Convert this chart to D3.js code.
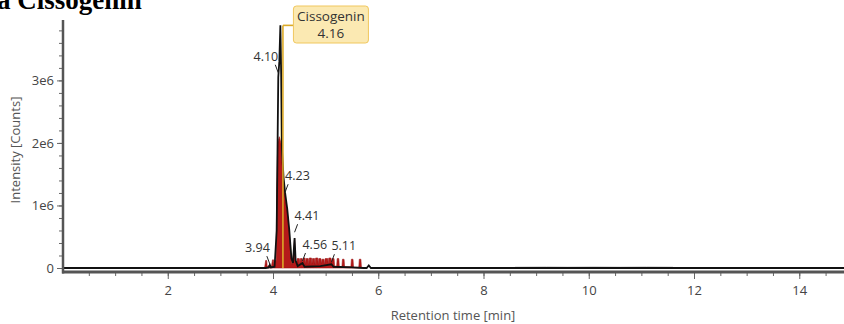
<!DOCTYPE html>
<html>
<head>
<meta charset="utf-8">
<script src="https://cdn.jsdelivr.net/npm/d3@7"></script>
<style>
  body { margin: 0; background: #fff; }
  svg { display: block; font-family: 'Open Sans', 'Noto Sans', sans-serif; }
</style>
</head>
<body>
<svg width="844" height="324"></svg>
<script>
// retention time [min] / intensity [counts]
const xMajorTicks = [2, 4, 6, 8, 10, 12, 14];
const yMajorTicks = [0, 1e6, 2e6, 3e6];
const yTickLabels = ['0', '1e6', '2e6', '3e6'];

const ticTrace = [
  [0, 0], [3.86, 0], [3.92, 0.01e6], [3.94, 0.05e6], [3.96, 0.01e6], [4.03, 0.02e6],
  [4.07, 0.6e6], [4.10, 3.05e6], [4.12, 3.3e6], [4.14, 3.88e6], [4.155, 3.1e6],
  [4.17, 1.9e6], [4.20, 1.45e6], [4.23, 1.2e6], [4.27, 0.95e6], [4.31, 0.6e6],
  [4.35, 0.15e6], [4.38, 0.08e6], [4.41, 0.48e6], [4.43, 0.12e6], [4.47, 0.03e6],
  [4.56, 0.08e6], [4.60, 0.02e6], [4.90, 0.03e6], [5.11, 0.06e6], [5.15, 0.02e6],
  [5.50, 0.01e6], [5.72, 0], [5.78, 0], [5.82, 0.04e6], [5.86, 0], [14.85, 0]
];

const fillTrace = [
  [3.84, 0], [3.86, 0.12e6], [3.88, 0.12e6], [3.89, 0.02e6], [3.94, 0.05e6], [3.97, 0.02e6],
  [3.99, 0.13e6], [4.01, 0.13e6], [4.02, 0.03e6], [4.04, 0.12e6], [4.06, 0.12e6],
  [4.07, 1.2e6], [4.09, 2.0e6], [4.12, 2.1e6], [4.15, 2.0e6], [4.17, 1.7e6],
  [4.20, 1.4e6], [4.23, 1.15e6], [4.27, 0.9e6], [4.31, 0.55e6], [4.34, 0.2e6],
  [4.36, 0.05e6], [4.38, 0.15e6], [4.41, 0.48e6], [4.43, 0.12e6], [4.45, 0.03e6],
  [4.46, 0.15e6], [4.50, 0.15e6], [4.51, 0.05e6], [4.52, 0.15e6], [4.555, 0.15e6],
  [4.565, 0.06e6], [4.575, 0.16e6], [4.61, 0.16e6], [4.62, 0.05e6], [4.63, 0.15e6],
  [4.67, 0.15e6], [4.68, 0.05e6], [4.69, 0.16e6], [4.73, 0.16e6], [4.74, 0.06e6],
  [4.75, 0.15e6], [4.79, 0.15e6], [4.80, 0.05e6], [4.81, 0.16e6], [4.85, 0.16e6],
  [4.86, 0.05e6], [4.87, 0.15e6], [4.91, 0.15e6], [4.92, 0.06e6], [4.93, 0.14e6],
  [4.97, 0.14e6], [4.98, 0.04e6], [4.99, 0.15e6], [5.04, 0.15e6], [5.05, 0.05e6],
  [5.06, 0.16e6], [5.10, 0.16e6], [5.11, 0.08e6], [5.12, 0.15e6], [5.16, 0.15e6],
  [5.17, 0.03e6], [5.21, 0.03e6], [5.22, 0.15e6], [5.25, 0.15e6], [5.26, 0.02e6],
  [5.31, 0.02e6], [5.32, 0.14e6], [5.35, 0.14e6], [5.36, 0.02e6], [5.48, 0.02e6],
  [5.49, 0.14e6], [5.52, 0.14e6], [5.53, 0.01e6], [5.63, 0.01e6], [5.64, 0.14e6],
  [5.67, 0.14e6], [5.68, 0.01e6], [5.70, 0]
];

const xicTrace = [
  [4.10, 0], [4.13, 1.5e6], [4.16, 3.88e6], [4.18, 2.0e6], [4.22, 1.25e6],
  [4.30, 0.65e6], [4.38, 0.1e6], [4.42, 0]
];

const noiseTrace = [
  [8.6, 0.015e6], [9.2, 0.02e6], [9.6, 0.015e6], [10.1, 0.02e6],
  [10.6, 0.015e6], [11.1, 0.02e6], [11.6, 0.015e6]
];

const peakTimes = [3.94, 4.10, 4.23, 4.41, 4.56, 5.11];
const peakLevels = [0.03e6, 3.09e6, 1.18e6, 0.54e6, 0.08e6, 0.06e6];
const peakSides = [-1, -1, 1, 1, 1, 1];

const compoundName = 'Cissogenin';
const compoundRt = 4.16;
const compoundApex = 3.88e6;

const svg = d3.select('svg');

const x = d3.scaleLinear().domain([0, 14.85]).range([62.5, 844]);
const y = d3.scaleLinear().domain([0, 3.95e6]).range([268, 21]);

// title, cut off at the top edge like the source figure
svg.append('text')
  .attr('x', -3)
  .attr('y', 9)
  .style('font-family', "'Liberation Serif', serif")
  .style('font-weight', 'bold')
  .style('font-size', '27px')
  .text('a Cissogenin');

function drawAxis() {
  const xMinor = d3.range(0.5, 14.85, 0.5);
  const xAxisMinor = svg.append('g')
    .attr('transform', 'translate(0,272)')
    .call(d3.axisBottom(x).tickValues(xMinor).tickSize(4).tickFormat(''));
  xAxisMinor.select('.domain').remove();

  const xAxis = svg.append('g')
    .attr('transform', 'translate(0,272)')
    .call(d3.axisBottom(x).tickValues(xMajorTicks).tickSize(7).tickPadding(7).tickFormat(d3.format('d')));
  xAxis.select('.domain').remove();

  const yMinor = d3.range(0.2e6, 3.95e6, 0.2e6);
  const yAxisMinor = svg.append('g')
    .attr('transform', 'translate(63,0)')
    .call(d3.axisLeft(y).tickValues(yMinor).tickSize(4).tickFormat(''));
  yAxisMinor.select('.domain').remove();

  const yAxis = svg.append('g')
    .attr('transform', 'translate(63,0)')
    .call(d3.axisLeft(y).tickValues(yMajorTicks).tickSize(6).tickPadding(3)
      .tickFormat((d, i) => yTickLabels[i]));
  yAxis.select('.domain').remove();

  svg.selectAll('.tick line').attr('stroke', '#666');
  svg.selectAll('.tick text')
    .attr('fill', '#444')
    .style('font-size', '13px')
    .style('font-family', "'Open Sans', sans-serif");

  svg.append('line')
    .attr('x1', 62).attr('x2', 844)
    .attr('y1', 272).attr('y2', 272)
    .attr('stroke', '#555').attr('stroke-width', 3);
  svg.append('line')
    .attr('x1', 63).attr('x2', 63)
    .attr('y1', 20).attr('y2', 273.5)
    .attr('stroke', '#555').attr('stroke-width', 2.5);

  svg.append('text')
    .attr('x', 453).attr('y', 320)
    .attr('text-anchor', 'middle')
    .attr('fill', '#555')
    .style('font-size', '13px')
    .text('Retention time [min]');

  svg.append('text')
    .attr('transform', 'translate(20,150) rotate(-90)')
    .attr('text-anchor', 'middle')
    .attr('fill', '#555')
    .style('font-size', '13px')
    .text('Intensity [Counts]');
}

function drawTraces() {
  const area = d3.area()
    .x(d => x(d[0]))
    .y0(y(0))
    .y1(d => y(d[1]));
  const line = d3.line()
    .x(d => x(d[0]))
    .y(d => y(d[1]));

  svg.append('path')
    .datum(xicTrace)
    .attr('d', area)
    .attr('fill', '#f6e3a6');

  svg.append('path')
    .datum(fillTrace)
    .attr('d', area)
    .attr('fill', '#b51a1a')
    .attr('stroke', '#9a1212')
    .attr('stroke-width', 0.6);

  svg.append('path')
    .datum(noiseTrace)
    .attr('d', line)
    .attr('fill', 'none')
    .attr('stroke', '#ccc')
    .attr('stroke-width', 1);

  svg.append('path')
    .datum(ticTrace)
    .attr('d', line)
    .attr('fill', 'none')
    .attr('stroke', '#111')
    .attr('stroke-width', 1.8);

  // compound marker + label box
  svg.append('line')
    .attr('x1', x(compoundRt) + 1.5).attr('x2', x(compoundRt) + 1.5)
    .attr('y1', y(0)).attr('y2', y(compoundApex))
    .attr('stroke', '#dcaa28').attr('stroke-width', 1.6);
  svg.append('line')
    .attr('x1', x(compoundRt) + 1.5).attr('x2', x(compoundRt) + 12)
    .attr('y1', y(compoundApex)).attr('y2', y(compoundApex))
    .attr('stroke', '#dcaa28').attr('stroke-width', 1.6);

  const bx = x(compoundRt) + 12;
  svg.append('rect')
    .attr('x', bx).attr('y', 6)
    .attr('width', 75).attr('height', 37)
    .attr('rx', 3)
    .attr('fill', '#fbe9b2')
    .attr('stroke', '#f0c75e');
  svg.append('text')
    .attr('x', bx + 37.5).attr('y', 21)
    .attr('text-anchor', 'middle')
    .attr('fill', '#333')
    .style('font-size', '13.5px')
    .text(compoundName);
  svg.append('text')
    .attr('x', bx + 37.5).attr('y', 38)
    .attr('text-anchor', 'middle')
    .attr('fill', '#333')
    .style('font-size', '13.5px')
    .text(compoundRt.toFixed(2));
}

function drawPeakLabels() {
  peakTimes.forEach((t, i) => {
    const px = x(t);
    const py = y(peakLevels[i]);
    const side = peakSides[i];
    svg.append('line')
      .attr('x1', px + side * 3).attr('y1', py - 10)
      .attr('x2', px).attr('y2', py - 2)
      .attr('stroke', '#222').attr('stroke-width', 1);
    svg.append('text')
      .attr('x', px)
      .attr('y', py - 14)
      .attr('text-anchor', side < 0 ? 'end' : 'start')
      .attr('fill', '#333')
      .style('font-size', '12.5px')
      .text(t.toFixed(2));
  });
}

drawTraces();
drawAxis();
drawPeakLabels();
</script>
</body>
</html>
